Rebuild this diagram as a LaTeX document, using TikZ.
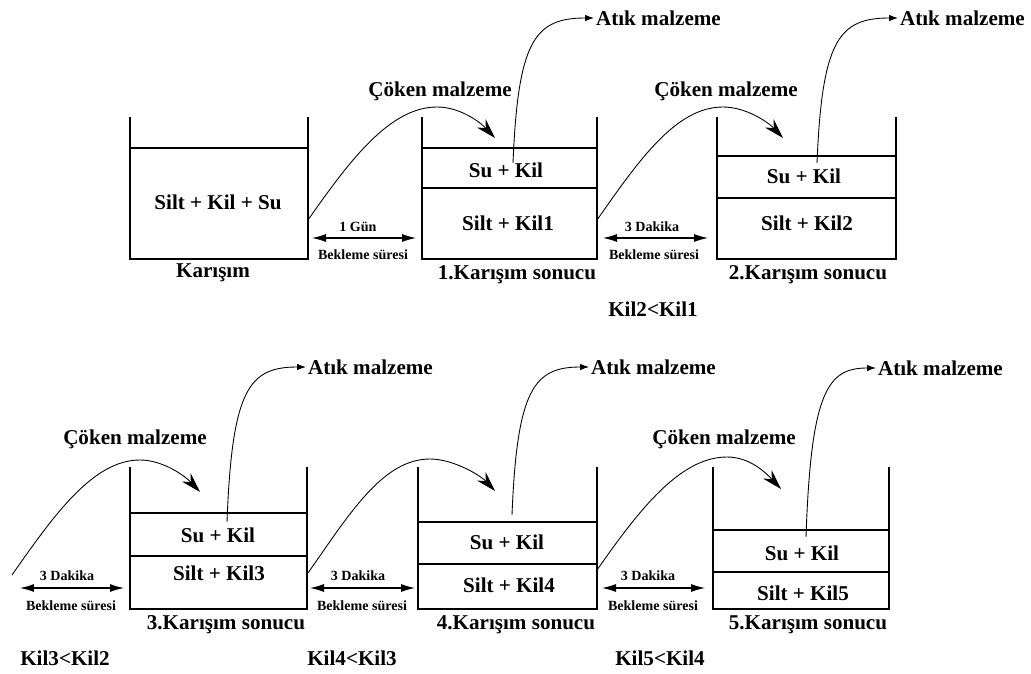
\documentclass[tikz,border=0pt]{standalone}
\usepackage{fontspec}
\setmainfont{Liberation Serif}
\usetikzlibrary{arrows.meta}

\tikzset{
  lbl/.style={font=\bfseries\fontsize{12}{14}\selectfont, inner sep=1pt},
  sml/.style={font=\bfseries\fontsize{8}{9}\selectfont, inner sep=1pt},
  kap/.style={line width=0.7pt},
  coken/.style={line width=0.5pt, -{Stealth[length=4mm,width=2.4mm]}},
  atik/.style={line width=0.5pt, -{Latex[length=1.8mm,width=1.3mm]}},
  bekle/.style={line width=0.6pt, {Latex[length=2.8mm,width=1.6mm]}-{Latex[length=2.8mm,width=1.6mm]}},
}

\begin{document}
\begin{tikzpicture}[x=0.02cm, y=-0.02cm]
    \useasboundingbox (0,0) rectangle (1031,673);

    % ust sira kaplar
    \draw[kap] (130,117) -- (130,259) -- (308,259) -- (308,117) (130,148) -- (308,148);
    \draw[kap] (422,117) -- (422,259) -- (597,259) -- (597,117) (422,148) -- (597,148) (422,188) -- (597,188);
    \draw[kap] (717,117) -- (717,259) -- (896,259) -- (896,117) (717,156) -- (896,156) (717,198) -- (896,198);
    % alt sira kaplar
    \draw[kap] (130,467) -- (130,609) -- (307,609) -- (307,467) (130,513) -- (307,513) (130,556) -- (307,556);
    \draw[kap] (418,467) -- (418,609) -- (597,609) -- (597,467) (418,522) -- (597,522) (418,564) -- (597,564);
    \draw[kap] (713,467) -- (713,609) -- (889,609) -- (889,467) (713,530) -- (889,530) (713,572) -- (889,572);

    \node(m0) [lbl] at (218,202) {Silt + Kil + Su};
    \node(n0) [lbl] at (213,273) {Karışım};
    \node(su1) [lbl] at (506,170) {Su + Kil};
    \node(m1) [lbl] at (508,223) {Silt + Kil1};
    \node(n1) [lbl] at (517,275) {1.Karışım sonucu};
    \node(su2) [lbl] at (804,176) {Su + Kil};
    \node(m2) [lbl] at (807,223) {Silt + Kil2};
    \node(n2) [lbl] at (808,275) {2.Karışım sonucu};
    \node(su3) [lbl] at (218,535) {Su + Kil};
    \node(m3) [lbl] at (219,573) {Silt + Kil3};
    \node(n3) [lbl] at (226,625) {3.Karışım sonucu};
    \node(su4) [lbl] at (507,542) {Su + Kil};
    \node(m4) [lbl] at (509,585) {Silt + Kil4};
    \node(n4) [lbl] at (516,625) {4.Karışım sonucu};
    \node(su5) [lbl] at (802,553) {Su + Kil};
    \node(m5) [lbl] at (803,593) {Silt + Kil5};
    \node(n5) [lbl] at (808,625) {5.Karışım sonucu};

    \node(k21) [lbl] at (653,309) {Kil2<Kil1};
    \node(k32) [lbl] at (65,658) {Kil3<Kil2};
    \node(k43) [lbl] at (352,658) {Kil4<Kil3};
    \node(k54) [lbl] at (660,658) {Kil5<Kil4};

    % bekleme sureleri
    \coordinate (b1l) at (312,238); \coordinate (b1r) at (416,238);
    \coordinate (b2l) at (603,238); \coordinate (b2r) at (708,238);
    \coordinate (b3l) at (20,588);  \coordinate (b3r) at (124,588);
    \coordinate (b4l) at (310,588); \coordinate (b4r) at (415,588);
    \coordinate (b5l) at (602,588); \coordinate (b5r) at (705,588);
    \draw[bekle] (b1l) -- (b1r);
    \draw[bekle] (b2l) -- (b2r);
    \draw[bekle] (b3l) -- (b3r);
    \draw[bekle] (b4l) -- (b4r);
    \draw[bekle] (b5l) -- (b5r);
    \node(g1) [sml] at (358,227) {1 Gün};
    \node(d2) [sml] at (652,227) {3 Dakika};
    \node(d3) [sml] at (67,576) {3 Dakika};
    \node(d4) [sml] at (358,576) {3 Dakika};
    \node(d5) [sml] at (648,576) {3 Dakika};
    \node(s1) [sml] at (363,255) {Bekleme süresi};
    \node(s2) [sml] at (654,255) {Bekleme süresi};
    \node(s3) [sml] at (71,606) {Bekleme süresi};
    \node(s4) [sml] at (362,606) {Bekleme süresi};
    \node(s5) [sml] at (653,606) {Bekleme süresi};

    % coken malzeme
    \coordinate (o0) at (308,220); \coordinate (p1) at (437,107); \coordinate (t1) at (495,138);
    \coordinate (o1) at (597,220); \coordinate (p2) at (723,107); \coordinate (t2) at (783,138);
    \coordinate (o2) at (12,575);  \coordinate (p3) at (140,460); \coordinate (t3) at (200,492);
    \coordinate (o3) at (308,573); \coordinate (p4) at (430,459); \coordinate (t4) at (495,491);
    \coordinate (o4) at (597,570); \coordinate (p5) at (727,457); \coordinate (t5) at (781,489);
    \draw[coken] (o0) .. controls +(42,-60) and +(-47,0) .. (p1) .. controls +(23,0) and +(-15,-16) .. (t1);
    \draw[coken] (o1) .. controls +(42,-60) and +(-47,0) .. (p2) .. controls +(23,0) and +(-15,-16) .. (t2);
    \draw[coken] (o2) .. controls +(42,-60) and +(-47,0) .. (p3) .. controls +(23,0) and +(-15,-16) .. (t3);
    \draw[coken] (o3) .. controls +(42,-60) and +(-47,0) .. (p4) .. controls +(23,0) and +(-15,-16) .. (t4);
    \draw[coken] (o4) .. controls +(42,-60) and +(-47,0) .. (p5) .. controls +(23,0) and +(-15,-16) .. (t5);
    \node(c1) [lbl] at (440,91) {Çöken malzeme};
    \node(c2) [lbl] at (726,91) {Çöken malzeme};
    \node(c3) [lbl] at (135,439) {Çöken malzeme};
    \node(c5) [lbl] at (724,439) {Çöken malzeme};

    % atik malzeme
    \node(a1) [lbl, anchor=west] at (594,18) {Atık malzeme};
    \node(a2) [lbl, anchor=west] at (898,18) {Atık malzeme};
    \node(a3) [lbl, anchor=west] at (306,367) {Atık malzeme};
    \node(a4) [lbl, anchor=west] at (589,367) {Atık malzeme};
    \node(a5) [lbl, anchor=west] at (876,368) {Atık malzeme};
    \coordinate (u1) at (513,163);
    \coordinate (u2) at (817,163);
    \coordinate (u3) at (227,522);
    \coordinate (u4) at (512,515);
    \coordinate (u5) at (806,537);
    \draw[atik] (u1) .. controls (518,40) and (535,18) .. (a1.west);
    \draw[atik] (u2) .. controls (822,40) and (839,18) .. (a2.west);
    \draw[atik] (u3) .. controls (232,389) and (249,367) .. (a3.west);
    \draw[atik] (u4) .. controls (517,389) and (534,367) .. (a4.west);
    \draw[atik] (u5) .. controls (811,390) and (828,368) .. (a5.west);

\end{tikzpicture}
\end{document}
